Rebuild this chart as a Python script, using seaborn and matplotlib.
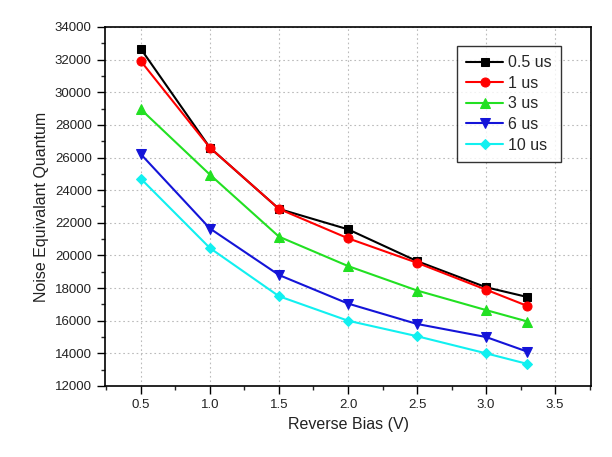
import matplotlib
matplotlib.use("Agg")
import matplotlib.pyplot as plt
import seaborn as sns
import pandas as pd
from matplotlib.ticker import MultipleLocator

sns.set_style("white")
plt.rcParams['font.family'] = ['Liberation Sans', 'DejaVu Sans']

bias = [0.5, 1.0, 1.5, 2.0, 2.5, 3.0, 3.3]
s_05 = [32650, 26600, 22850, 21600, 19650, 18050, 17450]
s_1 = [31900, 26600, 22850, 21050, 19550, 17900, 16900]
s_3 = [28950, 24950, 21150, 19350, 17850, 16650, 15950]
s_6 = [26200, 21650, 18800, 17050, 15800, 15000, 14100]
s_10 = [24700, 20450, 17500, 16000, 15050, 14000, 13350]
labels = ["0.5 us", "1 us", "3 us", "6 us", "10 us"]
series = [s_05, s_1, s_3, s_6, s_10]
colors = ["#000000", "#FF0000", "#22E022", "#1414D8", "#11F0F0"]
markers = ["s", "o", "^", "v", "D"]
msizes = [5.5, 6.5, 6.5, 6.5, 5.5]

rows = []
for lab, vals in zip(labels, series):
    for x, y in zip(bias, vals):
        rows.append({"bias": x, "nequ": y, "series": lab})
df = pd.DataFrame(rows)

fig = plt.figure(figsize=(6.12, 4.57), dpi=100)
ax = fig.add_axes([0.1716, 0.1554, 0.7941, 0.7856])

for lab, c, m, ms in zip(labels, colors, markers, msizes):
    sub = df[df["series"] == lab]
    sns.lineplot(data=sub, x="bias", y="nequ", ax=ax, color=c, marker=m,
                 markersize=ms, markeredgecolor=c, linewidth=1.5, label=lab)

ax.set_xlim(0.24, 3.76)
ax.set_ylim(12000, 34000)
ax.xaxis.set_major_locator(MultipleLocator(0.5))
ax.xaxis.set_minor_locator(MultipleLocator(0.25))
ax.yaxis.set_major_locator(MultipleLocator(2000))
ax.yaxis.set_minor_locator(MultipleLocator(1000))
ax.xaxis.set_major_formatter(matplotlib.ticker.FormatStrFormatter('%.1f'))
ax.grid(True, which='major', color='#BBBBBB', linestyle=(0, (1.5, 2.5)), linewidth=0.8)
ax.tick_params(which='major', direction='out', length=6, width=1, labelsize=9.5,
               bottom=True, left=True, colors='black', labelcolor='#222222')
ax.tick_params(which='minor', direction='out', length=3, width=1, bottom=True, left=True)
for sp in ax.spines.values():
    sp.set_color('black')
    sp.set_linewidth(1.2)
ax.set_xlabel("Reverse Bias (V)", fontsize=11.5, color='#222222')
ax.set_ylabel("Noise Equivalant Quantum", fontsize=11.5, color='#222222')

leg = ax.legend(loc='upper right', bbox_to_anchor=(0.955, 0.97), fontsize=11.5,
                frameon=True, fancybox=False, edgecolor='black', handlelength=2.3,
                borderpad=0.6, labelspacing=0.35, handletextpad=0.3)
leg.get_frame().set_linewidth(1.0)

fig.savefig("out.png", dpi=100)
